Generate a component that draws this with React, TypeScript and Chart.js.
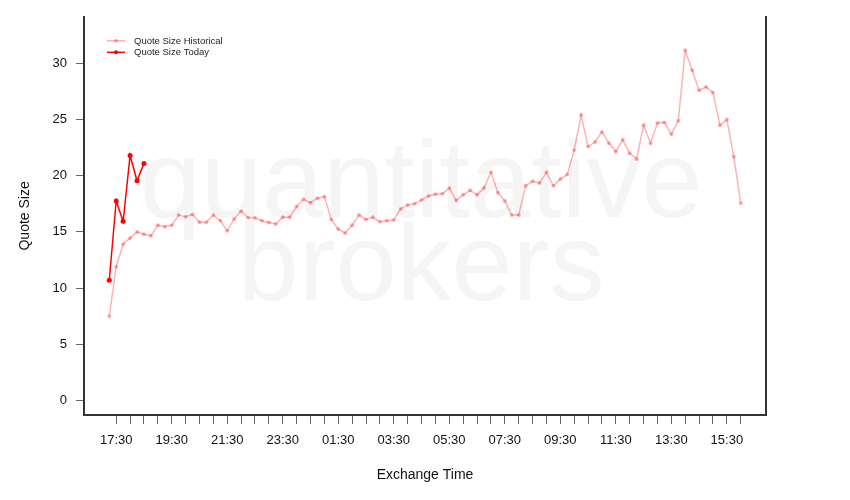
import React, { useEffect, useRef } from 'react';
import { Chart, registerables } from 'chart.js';

Chart.register(...registerables);

// ---- data ----
const times: string[] = [
  '17:15', '17:30', '17:45',
  '18:00', '18:15', '18:30', '18:45', '19:00', '19:15', '19:30', '19:45',
  '20:00', '20:15', '20:30', '20:45', '21:00', '21:15', '21:30', '21:45',
  '22:00', '22:15', '22:30', '22:45', '23:00', '23:15', '23:30', '23:45',
  '00:00', '00:15', '00:30', '00:45', '01:00', '01:15', '01:30', '01:45',
  '02:00', '02:15', '02:30', '02:45', '03:00', '03:15', '03:30', '03:45',
  '04:00', '04:15', '04:30', '04:45', '05:00', '05:15', '05:30', '05:45',
  '06:00', '06:15', '06:30', '06:45', '07:00', '07:15', '07:30', '07:45',
  '08:00', '08:15', '08:30', '08:45', '09:00', '09:15', '09:30', '09:45',
  '10:00', '10:15', '10:30', '10:45', '11:00', '11:15', '11:30', '11:45',
  '12:00', '12:15', '12:30', '12:45', '13:00', '13:15', '13:30', '13:45',
  '14:00', '14:15', '14:30', '14:45', '15:00', '15:15', '15:30', '15:45',
  '16:00',
];

const historical: number[] = [
  7.5, 11.9, 13.9, 14.45, 15.0, 14.8, 14.65, 15.6, 15.45, 15.6,
  16.5, 16.35, 16.55, 15.85, 15.85, 16.5, 16.0, 15.1, 16.15, 16.85,
  16.25, 16.26, 16.0, 15.84, 15.7, 16.3, 16.3, 17.26, 17.9, 17.6,
  18.0, 18.14, 16.1, 15.25, 14.9, 15.6, 16.5, 16.1, 16.3, 15.9,
  16.0, 16.05, 17.05, 17.4, 17.5, 17.85, 18.2, 18.35, 18.4, 18.9,
  17.8, 18.3, 18.7, 18.3, 18.9, 20.3, 18.5, 17.75, 16.5, 16.5,
  19.1, 19.5, 19.35, 20.3, 19.1, 19.7, 20.1, 22.3, 25.4, 22.6,
  23.0, 23.9, 22.9, 22.15, 23.2, 22.0, 21.5, 24.5, 22.9, 24.7,
  24.75, 23.7, 24.9, 31.15, 29.4, 27.6, 27.9, 27.4, 24.5, 25.0,
  21.7, 17.55,
];

const today: number[] = [10.7, 17.75, 15.95, 21.8, 19.55, 21.1];

const xLabelTimes: string[] = [
  '17:30', '19:30', '21:30', '23:30', '01:30', '03:30',
  '05:30', '07:30', '09:30', '11:30', '13:30', '15:30',
];
const yTicks: number[] = [0, 5, 10, 15, 20, 25, 30];
const legendLabels: string[] = ['Quote Size Historical', 'Quote Size Today'];
const watermarkLines: string[] = ['quantitative', 'brokers'];

// ---- styles ----
const FONT = "'Liberation Sans', Arial, Helvetica, sans-serif";
const HIST_COLOR = 'rgba(255,0,0,0.3)';
const TODAY_COLOR = '#ff0000';
const AXIS_COLOR = '#333333';
const TICK_COLOR = '#666666';
const TEXT_COLOR = '#111111';

const xTickIdx: number[] = times
  .map((t, i) => (t.endsWith(':00') || t.endsWith(':30') ? i : -1))
  .filter((i) => i >= 0);

const watermarkPlugin = {
  id: 'watermark',
  beforeDatasetsDraw(chart: any) {
    const { ctx } = chart;
    ctx.save();
    ctx.font = `110px ${FONT}`;
    ctx.fillStyle = '#f5f5f5';
    ctx.textAlign = 'center';
    ctx.textBaseline = 'alphabetic';
    ctx.fillText(watermarkLines[0], 421, 217);
    ctx.fillText(watermarkLines[1], 421, 300);
    ctx.restore();
  },
};

const legendPlugin = {
  id: 'customLegend',
  afterDatasetsDraw(chart: any) {
    const { ctx } = chart;
    const colors = [HIST_COLOR, TODAY_COLOR];
    const rows = [40.7, 52.3];
    ctx.save();
    ctx.font = `9.5px ${FONT}`;
    ctx.textBaseline = 'middle';
    ctx.textAlign = 'left';
    legendLabels.forEach((label, i) => {
      const y = rows[i];
      ctx.strokeStyle = colors[i];
      ctx.lineWidth = 1.5;
      ctx.beginPath();
      ctx.moveTo(107, y);
      ctx.lineTo(125, y);
      ctx.stroke();
      ctx.fillStyle = colors[i];
      ctx.beginPath();
      ctx.arc(116, y, 2, 0, Math.PI * 2);
      ctx.fill();
      ctx.fillStyle = '#222222';
      ctx.fillText(label, 134, y + 0.5);
    });
    ctx.restore();
  },
};

export default function App() {
  const canvasRef = useRef<HTMLCanvasElement | null>(null);

  useEffect(() => {
    const canvas = canvasRef.current;
    if (!canvas) return;
    const chart = new Chart(canvas, {
      type: 'line',
      data: {
        datasets: [
          {
            label: legendLabels[1],
            data: today.map((v, i) => ({ x: i, y: v })),
            borderColor: TODAY_COLOR,
            backgroundColor: TODAY_COLOR,
            pointBackgroundColor: TODAY_COLOR,
            pointBorderWidth: 0,
            pointRadius: 2.5,
            borderWidth: 1.5,
            tension: 0,
            order: 0,
          },
          {
            label: legendLabels[0],
            data: historical.map((v, i) => ({ x: i, y: v })),
            borderColor: HIST_COLOR,
            backgroundColor: HIST_COLOR,
            pointBackgroundColor: HIST_COLOR,
            pointBorderWidth: 0,
            pointRadius: 2,
            borderWidth: 1.5,
            tension: 0,
            order: 1,
          },
        ],
      },
      options: {
        responsive: false,
        animation: false,
        layout: { padding: { top: 16, right: 84, left: 0, bottom: 0 } },
        plugins: {
          legend: { display: false },
          tooltip: { enabled: false },
        },
        scales: {
          x: {
            type: 'linear',
            position: 'bottom',
            min: -3.64,
            max: 94.64,
            afterBuildTicks: (s: any) => {
              s.ticks = xTickIdx.map((v) => ({ value: v }));
            },
            afterFit: (s: any) => {
              s.height = 85;
            },
            ticks: {
              autoSkip: false,
              maxRotation: 0,
              minRotation: 0,
              padding: 9,
              color: TEXT_COLOR,
              font: { family: FONT, size: 13 },
              callback: (v: any) => {
                const t = times[Math.round(Number(v))];
                return t && xLabelTimes.includes(t) ? t : '';
              },
            },
            grid: {
              drawOnChartArea: false,
              drawTicks: true,
              tickLength: 9,
              tickColor: TICK_COLOR,
              tickWidth: 1,
              color: TICK_COLOR,
            },
            border: { display: true, color: AXIS_COLOR, width: 2 },
            title: {
              display: true,
              text: 'Exchange Time',
              color: TEXT_COLOR,
              font: { family: FONT, size: 14 },
              padding: { top: 0, bottom: 16.5 },
            },
          },
          y: {
            type: 'linear',
            position: 'left',
            min: -1.3,
            max: 34.15,
            afterBuildTicks: (s: any) => {
              s.ticks = yTicks.map((v) => ({ value: v }));
            },
            afterFit: (s: any) => {
              s.width = 84;
            },
            ticks: {
              padding: 9,
              color: TEXT_COLOR,
              font: { family: FONT, size: 13 },
              callback: (v: any) => String(v),
            },
            grid: {
              drawOnChartArea: false,
              drawTicks: true,
              tickLength: 8,
              tickColor: TICK_COLOR,
              tickWidth: 1,
              color: TICK_COLOR,
            },
            border: { display: true, color: AXIS_COLOR, width: 2 },
            title: {
              display: true,
              text: 'Quote Size',
              color: TEXT_COLOR,
              font: { family: FONT, size: 14 },
              padding: { top: 17, bottom: 0 },
            },
          },
          y2: {
            type: 'linear',
            position: 'right',
            min: -1.3,
            max: 34.15,
            ticks: { display: false },
            grid: { display: false, drawTicks: false },
            border: { display: true, color: AXIS_COLOR, width: 2 },
            afterFit: (s: any) => {
              s.width = 0;
            },
          },
        },
      } as any,
      plugins: [watermarkPlugin, legendPlugin],
    });
    return () => chart.destroy();
  }, []);

  return (
    <div style={{ position: 'absolute', left: 0, top: 0, width: 850, height: 500, background: '#fff' }}>
      <canvas ref={canvasRef} width={850} height={500} style={{ display: 'block' }} />
    </div>
  );
}
